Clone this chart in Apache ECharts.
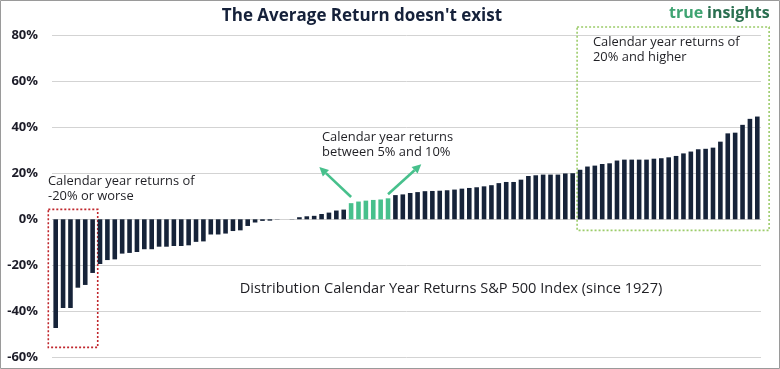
<!DOCTYPE html>
<html><head><meta charset="utf-8">
<script src="https://cdn.jsdelivr.net/npm/echarts@6/dist/echarts.min.js"></script>
<style>html,body{margin:0;padding:0;background:#fff}#c{width:780px;height:369px;}</style>
</head><body><div id="c"></div><script>
// Sorted calendar-year returns (%) of the S&P 500
const returns = [
  -47.2, -38.5, -38.5, -29.7, -28.5, -23.3, -19.4, -17.7, -17.4, -14.9,
  -14.6, -14.2, -13.0, -13.0, -11.9, -11.9, -11.6, -11.6, -11.3, -9.8,
  -9.6, -6.6, -6.6, -6.2, -5.1, -4.8, -2.9, -1.4, -0.7, -0.6,
  -0.1, 0.0, 0.1, 0.9, 1.3, 1.5, 2.3, 2.9, 3.8, 4.2,
  7.0, 7.7, 8.1, 8.4, 8.6, 9.1, 10.5, 10.8, 11.4, 11.8,
  12.2, 12.3, 12.4, 12.6, 12.9, 13.3, 13.6, 13.9, 14.3, 14.8,
  15.7, 16.2, 16.2, 17.2, 18.8, 19.1, 19.4, 19.4, 19.4, 19.9,
  20.0, 21.5, 22.9, 23.3, 24.0, 24.3, 25.5, 25.9, 25.9, 25.9,
  25.9, 26.3, 26.5, 26.9, 27.5, 28.6, 29.4, 30.4, 30.6, 31.1,
  33.7, 37.3, 37.6, 41.0, 43.6, 44.6
];
const ranks = returns.map((_, i) => String(i + 1));
const yTickLabels = ['-60%', '-40%', '-20%', '0%', '20%', '40%', '60%', '80%'];
const highlightRange = [5, 10];

const NAVY = '#162339';
const GREEN = '#47c08c';
const FONT = 'Open Sans';

const chart = echarts.init(document.getElementById('c'));
chart.setOption({
  animation: false,
  grid: { left: 52, right: 19, top: 35, bottom: 11.5 },
  xAxis: {
    type: 'category', data: ranks,
    axisLine: { show: false }, axisTick: { show: false }, axisLabel: { show: false },
    splitLine: { show: false }
  },
  yAxis: {
    type: 'value', min: -60, max: 80, interval: 20,
    axisLine: { show: false }, axisTick: { show: false },
    axisLabel: {
      margin: 14, fontFamily: FONT, fontWeight: 'bold', fontSize: 13, color: '#1c1c28',
      formatter: v => yTickLabels[(v + 60) / 20]
    },
    splitLine: { lineStyle: { color: '#d3d3d3', width: 1 } }
  },
  series: [{
    type: 'bar', data: returns, barWidth: 4.6,
    itemStyle: {
      color: p => (p.value >= highlightRange[0] && p.value <= highlightRange[1]) ? GREEN : NAVY
    }
  }]
});

function px(idx, val) {
  const a = chart.convertToPixel({ gridIndex: 0 }, [0, val]);
  const b = chart.convertToPixel({ gridIndex: 0 }, [1, val]);
  return [a[0] + (b[0] - a[0]) * idx, a[1]];
}
function box(i0, v0, i1, v1, color) {
  const p0 = px(i0, v0), p1 = px(i1, v1);
  return {
    type: 'rect', silent: true,
    shape: { x: p0[0], y: p0[1], width: p1[0] - p0[0], height: p1[1] - p0[1] },
    style: { fill: 'none', stroke: color, lineWidth: 1.6, lineDash: [2, 2] }
  };
}
function arrow(i0, v0, i1, v1) {
  const p0 = px(i0, v0), p1 = px(i1, v1);
  const dx = p1[0] - p0[0], dy = p1[1] - p0[1];
  const len = Math.hypot(dx, dy), ux = dx / len, uy = dy / len;
  const hl = 9, hw = 4.5;
  const bx = p1[0] - ux * hl, by = p1[1] - uy * hl;
  return [{
    type: 'line', silent: true,
    shape: { x1: p0[0], y1: p0[1], x2: bx, y2: by },
    style: { stroke: GREEN, lineWidth: 2.6 }
  }, {
    type: 'polygon', silent: true,
    shape: { points: [[p1[0], p1[1]], [bx - uy * hw, by + ux * hw], [bx + uy * hw, by - ux * hw]] },
    style: { fill: GREEN }
  }];
}
function text(x, y, str, size, extra) {
  return {
    type: 'text', silent: true, x: x, y: y,
    style: Object.assign({ text: str, fontFamily: FONT, fontSize: size, fill: '#1f1f24',
      lineHeight: size + 2, align: 'left', verticalAlign: 'top' }, extra || {})
  };
}

const graphics = [
  { type: 'rect', silent: true, shape: { x: 0.5, y: 0.5, width: 779, height: 368 },
    style: { fill: 'none', stroke: '#9a9a9a', lineWidth: 1 } },
  box(-1.0, 4.3, 5.69, -55.6, '#c0262c'),
  box(70.6, 83.5, 96.6, -4.8, '#9ccc6a'),
  ...arrow(40.0, 9.7, 35.7, 22.7),
  ...arrow(45.0, 10.9, 49.5, 23.9),
  text(362, 7, "The Average Return doesn't exist", 17,
    { fontWeight: 'bold', fill: '#15213a', align: 'center' }),
  text(669, 4, 'true', 16, { fontWeight: 'bold', fill: '#3fa472' }),
  text(707, 4, 'insights', 16, { fontWeight: 'bold', fill: '#2a6f50' }),
  text(48, 174, 'Calendar year returns of\n-20% or worse', 12.9),
  text(322, 130, 'Calendar year returns\nbetween 5% and 10%', 12.9),
  text(593, 35, 'Calendar year returns of\n20% and higher', 12.9),
  text(451, 281, 'Distribution Calendar Year Returns S&P 500 Index (since 1927)', 14.6,
    { align: 'center' })
];
chart.setOption({ graphic: graphics });
</script></body></html>
